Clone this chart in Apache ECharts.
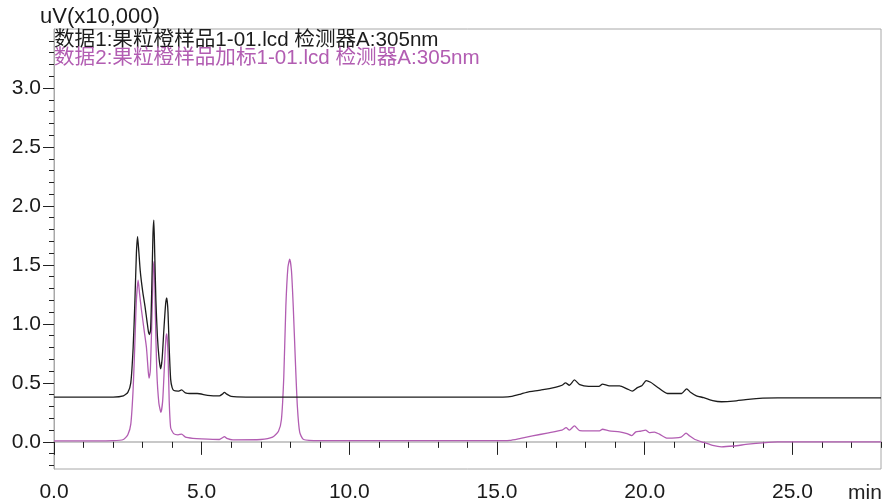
<!DOCTYPE html>
<html>
<head>
<meta charset="utf-8">
<script src="https://cdn.jsdelivr.net/npm/echarts@6/dist/echarts.min.js"></script>
<style>
  html, body { margin: 0; padding: 0; background: #fff; }
  #chart { width: 887px; height: 503px; }
</style>
</head>
<body>
<div id="chart"></div>
<script>
// sample 1: 果粒橙样品 (min, uV x10,000)
const sample1Name = '数据1:果粒橙样品1-01.lcd 检测器A:305nm'
const sample1Time = [
  0, 1, 2, 2.35, 2.5, 2.6, 2.68, 2.74, 2.79, 2.83, 2.87, 2.92, 3.0, 3.08, 3.15, 3.2, 3.23,
  3.27, 3.31, 3.35, 3.38, 3.41, 3.45, 3.5, 3.56, 3.61, 3.66, 3.72, 3.78, 3.82, 3.86, 3.9,
  3.95, 4.0, 4.06, 4.2, 4.32, 4.45, 4.6, 4.85, 5.2, 5.6, 5.7, 5.77, 5.85, 6.0, 6.5, 8, 10,
  12, 14, 15.2, 15.5, 15.8, 16.0, 16.5, 17.0, 17.2, 17.32, 17.45, 17.62, 17.8, 18.1, 18.45,
  18.57, 18.8, 19.15, 19.4, 19.58, 19.75, 19.9, 20.05, 20.2, 20.4, 20.77, 21.25, 21.42,
  21.55, 21.75, 22.0, 22.3, 22.6, 23.0, 23.5, 24.0, 24.5, 26, 28
]
const sample1Value = [
  0.38, 0.38, 0.38, 0.39, 0.42, 0.5, 0.8, 1.2, 1.6, 1.74, 1.62, 1.45, 1.28, 1.15, 1.02, 0.93, 0.91,
  0.95, 1.3, 1.75, 1.88, 1.6, 1.2, 0.9, 0.7, 0.62, 0.7, 0.95, 1.17, 1.22, 1.1, 0.8,
  0.53, 0.46, 0.435, 0.43, 0.44, 0.415, 0.41, 0.41, 0.395, 0.39, 0.405, 0.42, 0.405, 0.385, 0.38, 0.38, 0.38,
  0.38, 0.38, 0.38, 0.385, 0.405, 0.42, 0.44, 0.465, 0.48, 0.5, 0.48, 0.525, 0.485, 0.47, 0.47,
  0.49, 0.475, 0.475, 0.45, 0.43, 0.46, 0.475, 0.52, 0.505, 0.47, 0.41, 0.41, 0.45,
  0.42, 0.39, 0.375, 0.35, 0.34, 0.345, 0.36, 0.37, 0.373, 0.373, 0.373
]

// sample 2: 果粒橙样品加标
const sample2Name = '数据2:果粒橙样品加标1-01.lcd 检测器A:305nm'
const sample2Time = [
  0, 1, 2, 2.35, 2.5, 2.6, 2.68, 2.74, 2.79, 2.85, 2.9, 2.96, 3.05, 3.13, 3.19, 3.22, 3.26,
  3.31, 3.36, 3.39, 3.43, 3.48, 3.55, 3.62, 3.68, 3.74, 3.79, 3.82, 3.86, 3.9, 3.95, 4.05,
  4.2, 4.32, 4.45, 4.7, 5.0, 5.6, 5.7, 5.77, 5.85, 6.06, 7.0, 7.4, 7.6, 7.7, 7.78, 7.85,
  7.92, 7.98, 8.04, 8.1, 8.17, 8.24, 8.32, 8.45, 9.0, 11, 13, 15.2, 15.43, 15.8, 16.2, 16.7,
  17.2, 17.34, 17.45, 17.62, 17.8, 18.47, 18.57, 18.8, 19.15, 19.4, 19.56, 19.7, 19.85,
  20.03, 20.15, 20.33, 20.5, 20.77, 21.23, 21.4, 21.52, 21.7, 22.0, 22.3, 22.6, 23.0, 23.5,
  24.0, 24.5, 26, 28
]
const sample2Value = [
  0.008, 0.008, 0.01, 0.02, 0.06, 0.15, 0.45, 0.85, 1.2, 1.37, 1.25, 1.12, 0.95, 0.8, 0.6, 0.54, 0.6,
  1.0, 1.45, 1.53, 1.1, 0.6, 0.33, 0.25, 0.35, 0.65, 0.88, 0.915, 0.75, 0.35, 0.12, 0.07,
  0.06, 0.065, 0.04, 0.03, 0.025, 0.02, 0.035, 0.045, 0.03, 0.017, 0.02, 0.04, 0.09, 0.19, 0.55, 1.15,
  1.48, 1.55, 1.45, 1.15, 0.7, 0.3, 0.08, 0.02, 0.01, 0.01, 0.01, 0.01, 0.012, 0.03, 0.05, 0.075,
  0.1, 0.12, 0.1, 0.135, 0.096, 0.093, 0.107, 0.093, 0.085, 0.07, 0.053, 0.085, 0.09,
  0.099, 0.079, 0.083, 0.065, 0.031, 0.04, 0.074, 0.05, 0.02, -0.005, -0.03, -0.042, -0.035, -0.02,
  -0.008, 0, 0, 0
]

// axis ticks
const xMinorTicks = [0, 1, 2, 3, 4, 5, 6, 7, 8, 9, 10, 11, 12, 13, 14, 15, 16, 17, 18, 19, 20, 21, 22, 23, 24, 25, 26, 27, 28]
const xMajorTicks = [0, 5, 10, 15, 20, 25]
const yMajorTicks = [0, 0.5, 1.0, 1.5, 2.0, 2.5, 3.0]
const yMinorTicks = [
  -0.2, -0.1, 0.1, 0.2, 0.3, 0.4, 0.6, 0.7, 0.8, 0.9, 1.1, 1.2, 1.3, 1.4, 1.6, 1.7, 1.8, 1.9,
  2.1, 2.2, 2.3, 2.4, 2.6, 2.7, 2.8, 2.9, 3.1, 3.2, 3.3, 3.4
]

const font = '"Liberation Sans", "Noto Sans CJK SC", sans-serif'
const black = '#1c1c1c'
const purple = '#b25db2'
const yMin = -0.23
const yMax = 3.5

const chart = echarts.init(document.getElementById('chart'))

const pairs = (t, v) => t.map((x, i) => [x, v[i]])

chart.setOption({
  animation: false,
  textStyle: { fontFamily: font },
  grid: {
    left: 54,
    right: 6,
    top: 29,
    bottom: 34,
    show: true,
    borderColor: '#a8a8a8',
    borderWidth: 1,
  },
  legend: {
    orient: 'vertical',
    left: 44,
    top: 25,
    icon: 'none',
    itemWidth: 0,
    itemHeight: 10,
    itemGap: -3,
    selectedMode: false,
    textStyle: { fontSize: 20.6, lineHeight: 19, fontFamily: font },
    data: [
      { name: sample1Name, textStyle: { color: black } },
      { name: sample2Name, textStyle: { color: purple } },
    ],
  },
  graphic: [
    {
      type: 'text',
      left: 848,
      top: 483,
      style: { text: 'min', font: '21px ' + font, fill: '#222' },
    },
  ],
  xAxis: [
    {
      type: 'value',
      min: 0,
      max: 28,
      splitLine: { show: false },
      axisLine: { lineStyle: { color: '#c8c8c8', width: 2 } },
      axisTick: { customValues: xMinorTicks, length: 6, lineStyle: { color: '#222' } },
      axisLabel: { show: false },
    },
    {
      type: 'value',
      min: 0,
      max: 28,
      position: 'bottom',
      splitLine: { show: false },
      axisLine: { show: false },
      axisTick: { customValues: xMajorTicks, length: 13, lineStyle: { color: '#222' } },
      axisLabel: {
        customValues: xMajorTicks,
        formatter: (v) => v.toFixed(1),
        fontSize: 21,
        color: '#1a1a1a',
        margin: 13,
      },
    },
  ],
  yAxis: [
    {
      type: 'value',
      min: yMin,
      max: yMax,
      name: 'uV(x10,000)',
      nameLocation: 'end',
      nameGap: 1,
      nameTextStyle: { fontSize: 22, color: '#1a1a1a', align: 'left', padding: [0, 0, 0, -14] },
      splitLine: { show: false },
      axisLine: { show: true, lineStyle: { color: '#a8a8a8', width: 1 } },
      axisTick: { customValues: yMajorTicks, length: 11, lineStyle: { color: '#222' } },
      axisLabel: {
        customValues: yMajorTicks,
        formatter: (v) => v.toFixed(1),
        fontSize: 21,
        color: '#1a1a1a',
        margin: 13,
      },
    },
    {
      type: 'value',
      min: yMin,
      max: yMax,
      position: 'left',
      splitLine: { show: false },
      axisLine: { show: false },
      axisTick: { customValues: yMinorTicks, length: 5, lineStyle: { color: '#222' } },
      axisLabel: { show: false },
    },
  ],
  series: [
    {
      name: sample2Name,
      type: 'line',
      data: pairs(sample2Time, sample2Value),
      showSymbol: false,
      smooth: 0.2,
      lineStyle: { color: purple, width: 1.3 },
      itemStyle: { color: purple },
    },
    {
      name: sample1Name,
      type: 'line',
      data: pairs(sample1Time, sample1Value),
      showSymbol: false,
      smooth: 0.2,
      lineStyle: { color: black, width: 1.3 },
      itemStyle: { color: black },
    },
  ],
})
</script>
</body>
</html>
